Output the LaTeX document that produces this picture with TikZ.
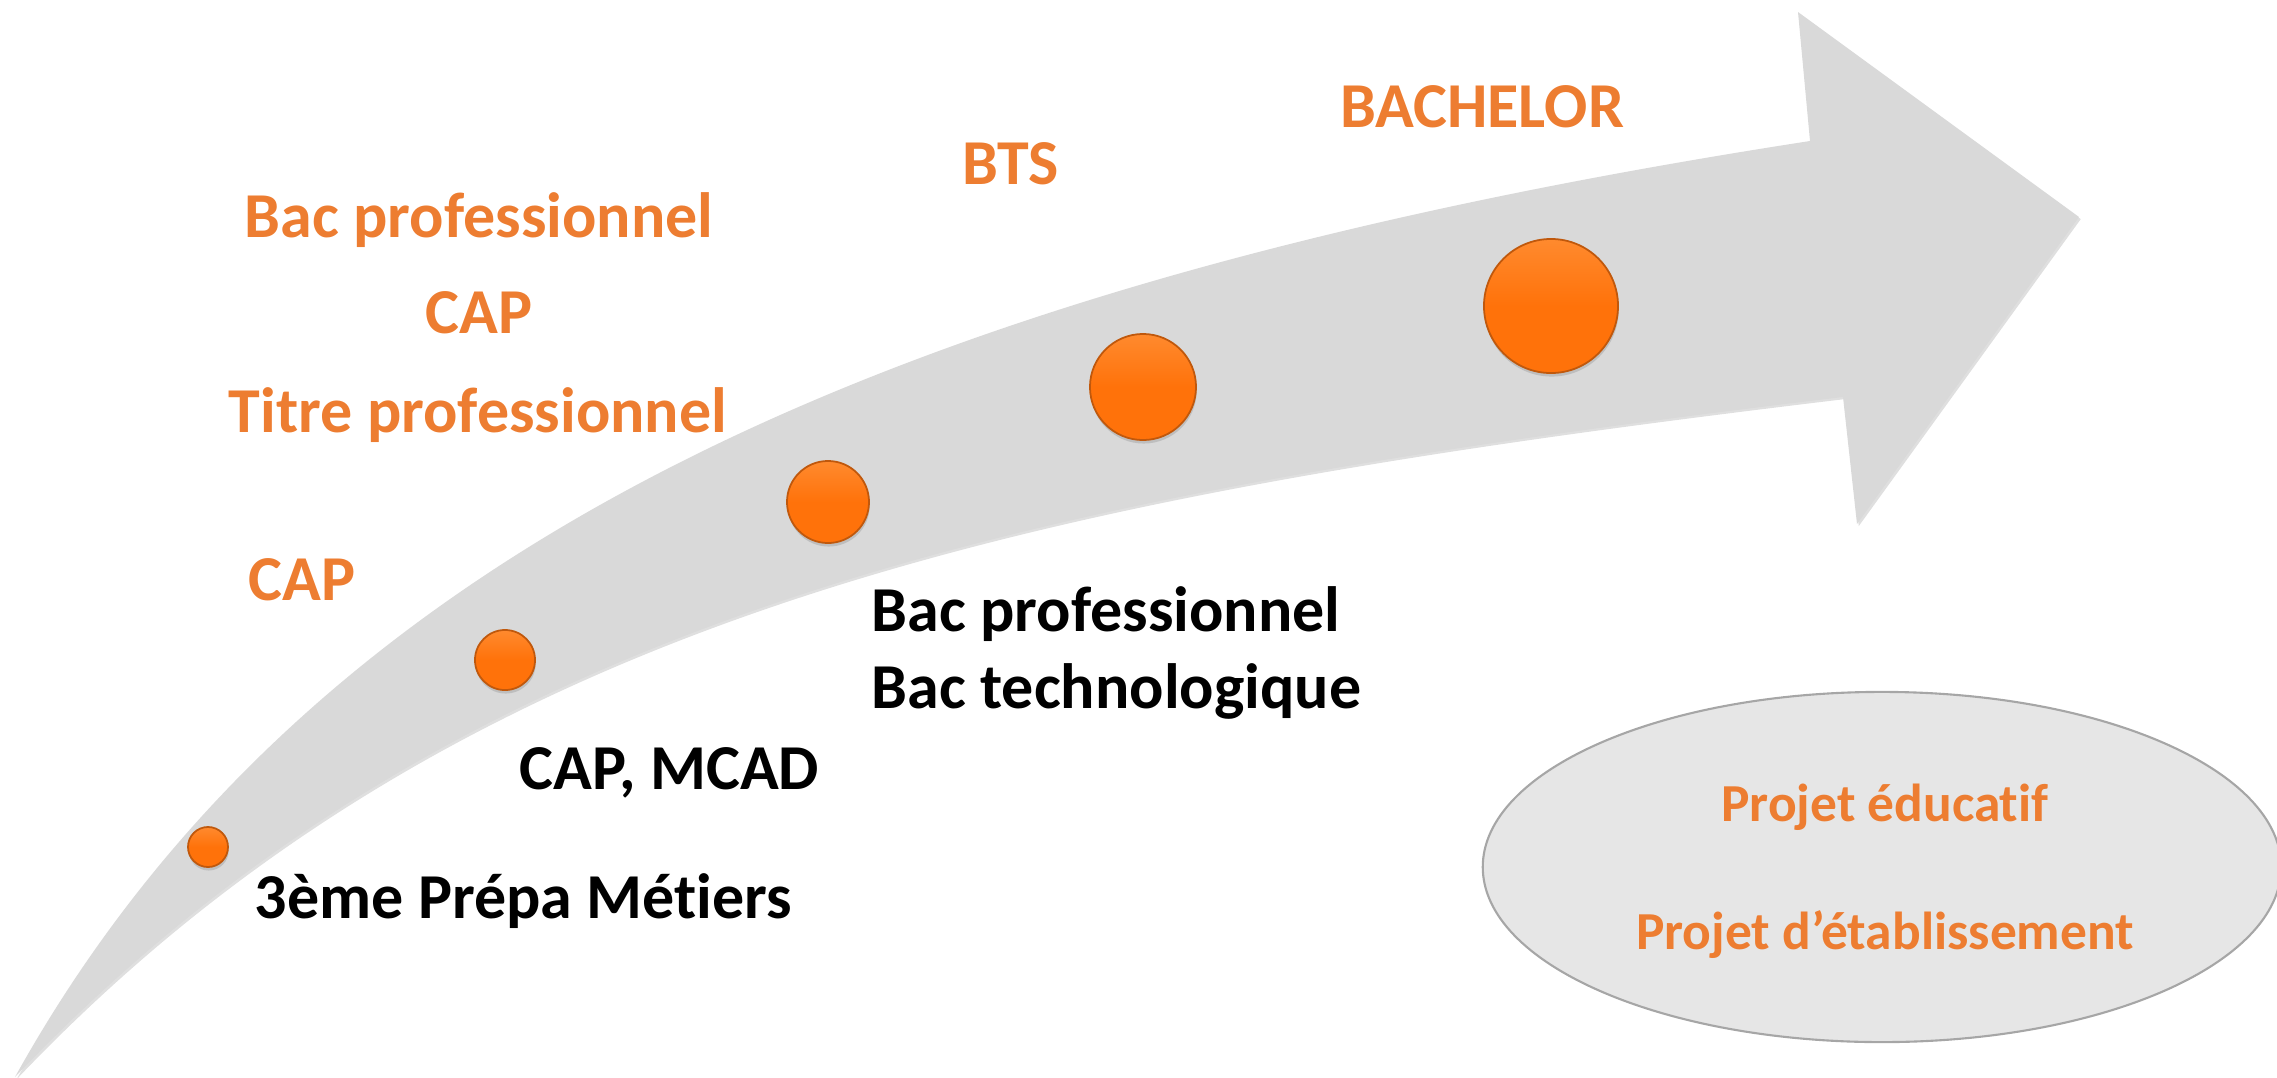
\documentclass[tikz,border=0pt]{standalone}
\usepackage{fontspec}
\setmainfont{Carlito}[RawFeature={-liga}]
\usetikzlibrary{shadows,shapes.geometric}
\definecolor{accent}{HTML}{ED7D31}
\definecolor{band}{HTML}{D9D9D9}
\definecolor{ballfill}{HTML}{FF720A}
\definecolor{balltop}{HTML}{FF8A2E}
\definecolor{ballrim}{HTML}{C0580C}
\definecolor{ovalfill}{HTML}{E6E6E6}
\definecolor{ovalrim}{HTML}{A6A6A6}
\tikzset{
  ball/.style={circle, inner sep=0pt, draw=ballrim, line width=0.5pt,
    top color=balltop, bottom color=ballfill, middle color=ballfill,
    drop shadow={shadow xshift=0.2pt, shadow yshift=-1pt, opacity=0.3}},
  hot/.style={text=accent, inner sep=0pt, anchor=base, font=\fontsize{18.2}{22}\selectfont\bfseries},
  dark/.style={text=black, inner sep=0pt, anchor=base west, font=\fontsize{18.2}{22}\selectfont\bfseries},
  note/.style={text=accent, inner sep=0pt, anchor=base, font=\fontsize{15.2}{18}\selectfont\bfseries},
}
\begin{document}
\begin{tikzpicture}[x=0.01cm, y=-0.01cm]
    \useasboundingbox (0,0) rectangle (2277,1078);

    \fill[band, drop shadow={shadow xshift=0.5pt, shadow yshift=-0.6pt, opacity=0.25}]
      (15,1077) .. controls (315,537) and (910,280) .. (1810,141)
      -- (1798,12) -- (2079,217) -- (1857,524) -- (1843,397)
      .. controls (1043,493) and (465,604) .. (15,1077) -- cycle;

    \node[ball, minimum size=0.40cm] (B1) at ( 208, 847) {};
    \node[ball, minimum size=0.60cm] (B2) at ( 505, 660) {};
    \node[ball, minimum size=0.82cm] (B3) at ( 828, 502) {};
    \node[ball, minimum size=1.06cm] (B4) at (1143, 387) {};
    \node[ball, minimum size=1.34cm] (B5) at (1551, 306) {};

    \node[hot] (BACH) at (1482, 127) {BACHELOR};
    \node[hot] (BTS)  at (1011, 184) {BTS};
    \node[hot] (BP1)  at ( 479, 237) {Bac professionnel};
    \node[hot] (CAP2) at ( 479, 333) {CAP};
    \node[hot] (TP)   at ( 478, 432) {Titre professionnel};
    \node[hot] (CAP1) at ( 302, 600) {CAP};

    \node[dark] (PM)  at ( 254, 918) {3ème Prépa Métiers};
    \node[dark] (MC)  at ( 519, 789) {CAP, MCAD};
    \node[dark] (BP2) at ( 871, 631) {Bac professionnel};
    \node[dark] (BT)  at ( 871, 708) {Bac technologique};

    \node[ellipse, fill=ovalfill, draw=ovalrim, line width=0.6pt, inner sep=0pt,
          minimum width=7.98cm, minimum height=3.50cm] (P) at (1882, 867) {};
    \node[note] (PE) at (1885, 821) {Projet éducatif};
    \node[note] (PD) at (1885, 949) {Projet d’établissement};
\end{tikzpicture}
\end{document}
